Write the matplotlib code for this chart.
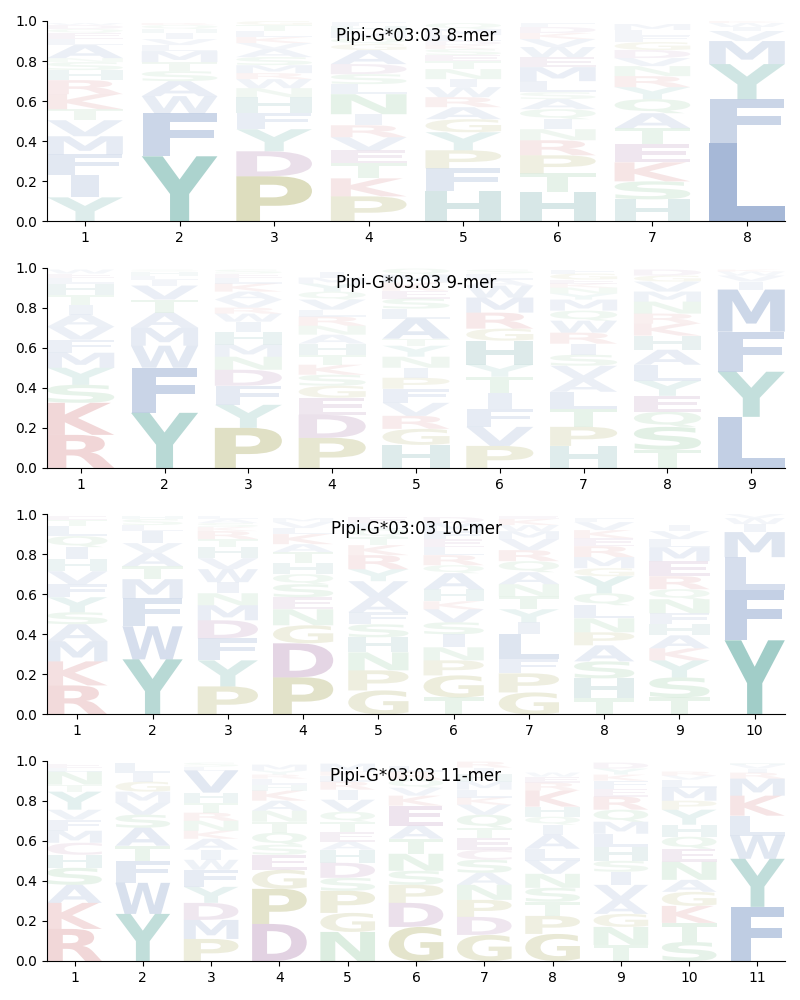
import matplotlib
matplotlib.use('Agg')
import matplotlib.pyplot as plt
from matplotlib.textpath import TextPath
from matplotlib.patches import PathPatch
from matplotlib.font_manager import FontProperties
from matplotlib.transforms import Affine2D

allele = "Pipi-G*03:03"

# letters listed bottom -> top for each position, heights are frequencies
letters_8 = ["YIFMVTKRHSNALEQDW", "YFWASTMLVIHQR", "PDYFHNWRMSAVKLTG",
             "PKTEVRINLSDAGQMHF", "HFPYGARWINTESKDLMQ", "HTPRNIQASLMEWVKDF",
             "HSKETAQYRNVDGFLM", "LFYMVIWK"]
heights_8 = [[.12, .11, .105, .09, .08, .055, .075, .07, .05, .04, .02, .065, .03, .03, .02, .02, .01],
             [.325, .215, .085, .075, .05, .045, .055, .03, .03, .03, .02, .02, .01],
             [.225, .125, .11, .08, .08, .045, .045, .03, .04, .04, .04, .03, .03, .03, .03, .02],
             [.125, .09, .075, .065, .065, .06, .055, .1, .05, .05, .05, .07, .03, .03, .03, .03, .02],
             [.15, .115, .09, .09, .065, .06, .05, .05, .04, .05, .04, .03, .03, .02, .02, .03, .03, .03],
             [.145, .095, .09, .075, .055, .05, .05, .05, .035, .055, .07, .05, .05, .04, .03, .03, .02],
             [.11, .09, .095, .09, .08, .075, .07, .06, .055, .05, .04, .04, .04, .03, .03, .03],
             [.39, .22, .175, .115, .05, .02, .02, .01]]

letters_9 = ["RKSYMFVAITHLEW", "YFWMATVILHS", "PYFDNMHIWRVAKLES",
             "PDEGSKTHANRLVQYMI", "HGRVFPINYTALSEKMQ", "PVFITYHGRMWALS",
             "HPTLAVSIRWQMYNKEGF", "TSQEYLAHKRNMVGD", "LYFMIVWK"]
heights_9 = [[.165, .16, .09, .085, .075, .065, .065, .06, .05, .05, .055, .03, .02, .02],
             [.275, .225, .11, .09, .075, .065, .07, .03, .02, .02, .01],
             [.2, .115, .095, .08, .065, .06, .065, .05, .04, .03, .04, .04, .04, .03, .02, .02],
             [.15, .115, .085, .06, .055, .05, .05, .055, .045, .045, .045, .035, .05, .04, .04, .03, .03],
             [.115, .08, .065, .065, .07, .055, .05, .055, .055, .035, .1, .05, .05, .04, .04, .04, .03],
             [.11, .095, .09, .08, .08, .06, .12, .06, .08, .075, .06, .03, .03, .02],
             [.11, .095, .09, .085, .065, .065, .055, .055, .055, .06, .05, .055, .03, .03, .02, .02, .03, .02],
             [.09, .115, .075, .08, .075, .08, .075, .07, .06, .05, .06, .05, .05, .03, .03],
             [.255, .225, .2, .21, .04, .03, .02, .01]]

letters_10 = ["RKMASYFVHIQLTE", "YWFMTAVILSH", "PYFDMNIWVHTRKSAL",
              "PDGNESQHTAKLVM", "GPNHSFAVYRKTQLE", "TGPNISVKHAQRLEFMD",
              "GPFLIYTNAQRVMWKE", "THSAPNLQYGMREKVF", "TSYKAHFNQREMLVI", "YFLMIWV"]
heights_10 = [[.145, .12, .1, .085, .06, .075, .065, .065, .06, .06, .055, .05, .03, .02],
              [.275, .165, .14, .095, .065, .065, .05, .06, .03, .03, .015],
              [.14, .13, .11, .09, .075, .06, .055, .065, .055, .055, .04, .04, .02, .02, .02, .015],
              [.185, .17, .09, .08, .06, .065, .05, .055, .055, .04, .05, .03, .03, .02],
              [.12, .1, .09, .075, .065, .06, .075, .08, .06, .07, .05, .04, .04, .03, .03],
              [.085, .11, .075, .065, .065, .06, .065, .04, .06, .08, .04, .05, .04, .04, .04, .04, .03],
              [.11, .095, .07, .125, .06, .065, .065, .06, .06, .055, .055, .055, .04, .03, .03, .015],
              [.08, .1, .085, .08, .065, .07, .065, .06, .085, .04, .055, .055, .04, .04, .04, .02],
              [.085, .1, .085, .06, .065, .055, .055, .07, .05, .065, .075, .07, .04, .04, .03],
              [.37, .25, .165, .125, .04, .03, .02]]

letters_11 = ["RKASHCMFVYTNLE", "YWFTASVMGIL", "PMDYFWIAKNRTHVLS",
              "DPGESQTNAKHLRYM", "NGPSDHAETQVIRLKM", "GDPSNTAEKVQRL",
              "GDPNASCETQVKLMHIR", "GPTSNVLAIQHKREW", "TNGAVISHLMQREFKYD",
              "STKGANEQHYPMLVR", "FYWLKMRIVH"]
heights_11 = [[.16, .13, .09, .085, .065, .06, .06, .055, .05, .09, .035, .065, .02, .02],
              [.235, .155, .11, .075, .09, .065, .06, .055, .05, .045, .05],
              [.11, .095, .085, .08, .085, .05, .05, .055, .04, .05, .04, .05, .05, .11, .02, .02],
              [.185, .175, .095, .075, .05, .06, .055, .055, .05, .05, .03, .03, .02, .02, .03],
              [.145, .095, .11, .065, .075, .065, .04, .05, .05, .05, .06, .05, .04, .03, .02, .04],
              [.17, .12, .09, .07, .085, .075, .065, .1, .05, .04, .04, .04, .03],
              [.13, .09, .085, .075, .06, .065, .05, .06, .05, .065, .05, .035, .04, .04, .04, .03, .03],
              [.135, .09, .07, .07, .07, .065, .06, .07, .05, .04, .05, .08, .04, .03, .02],
              [.08, .09, .065, .07, .075, .065, .055, .07, .065, .06, .06, .065, .04, .04, .03, .03, .03],
              [.095, .095, .085, .07, .06, .09, .065, .06, .06, .075, .045, .065, .04, .02, .02],
              [.27, .24, .115, .1, .1, .085, .03, .02, .02, .01]]

panels = [(8, letters_8, heights_8), (9, letters_9, heights_9),
          (10, letters_10, heights_10), (11, letters_11, heights_11)]

# colour by residue type
aa_colors = {}
for c in "AVILMFW":
    aa_colors[c] = "#4c72b0"
for c in "KR":
    aa_colors[c] = "#c44e52"
for c in "DE":
    aa_colors[c] = "#8e4f8e"
for c in "STNQ":
    aa_colors[c] = "#55a868"
for c in "PG":
    aa_colors[c] = "#8f8f2a"
aa_colors["Y"] = "#3a968c"
aa_colors["H"] = "#3e8a8a"
aa_colors["C"] = "#a05a8a"

fp = FontProperties(family='DejaVu Sans', weight='bold')
ref_w = TextPath((0, 0), 'E', size=1, prop=fp).get_extents().width


def draw_letter(ax, ch, x, y, h, width=0.8):
    path = TextPath((0, 0), ch, size=1, prop=fp)
    ext = path.get_extents()
    sx = min(width / ext.width, width / ref_w)
    sy = h / ext.height
    w = ext.width * sx
    tr = Affine2D().translate(-ext.x0, -ext.y0).scale(sx, sy).translate(x - w / 2, y)
    alpha = min(1.0, 0.03 + 1.2 * h)
    ax.add_patch(PathPatch(tr.transform_path(path), facecolor=aa_colors[ch],
                           edgecolor='none', lw=0, alpha=alpha))


fig, axes = plt.subplots(4, 1, figsize=(8, 10))
fig.subplots_adjust(left=0.059, right=0.981, top=0.979, bottom=0.039, hspace=0.23)

for ax, (n, letters, heights) in zip(axes, panels):
    for i in range(n):
        y = 0.0
        for ch, h in zip(letters[i], heights[i]):
            draw_letter(ax, ch, i + 1, y, h)
            y += h
    ax.set_xlim(0.6, n + 0.4)
    ax.set_ylim(0, 1)
    ax.set_xticks(range(1, n + 1))
    ax.set_yticks([0, 0.2, 0.4, 0.6, 0.8, 1.0])
    ax.spines['top'].set_visible(False)
    ax.spines['right'].set_visible(False)
    ax.text(0.5, 0.925, f"{allele} {n}-mer", transform=ax.transAxes,
            ha='center', va='center', fontsize=12)

plt.savefig("out.png", dpi=100)
